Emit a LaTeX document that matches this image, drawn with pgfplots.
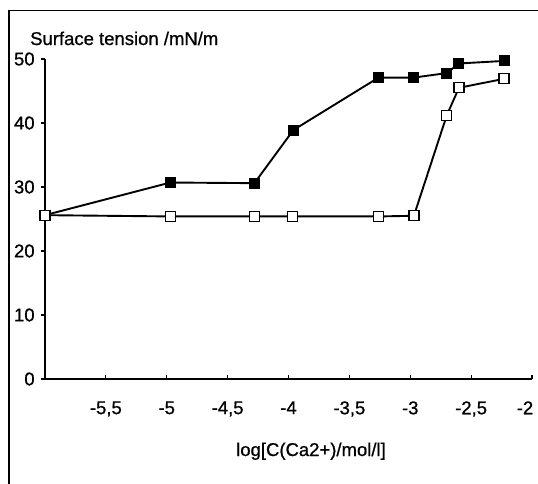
\documentclass[border=0pt]{standalone}
\usepackage{fontspec}
\setmainfont{Liberation Sans}[FakeBold=0.8]
\usepackage{pgfplots}
\pgfplotsset{compat=1.18}
\begin{document}
\fontsize{18.5}{22}\selectfont
\begin{tikzpicture}[x=1pt,y=1pt]
\begin{axis}[
  name=a,
  scale only axis, width=487pt, height=320pt,
  xmin=-6, xmax=-2, ymin=0, ymax=50,
  axis x line=bottom, axis y line=left,
  axis line style={-, line width=1.4pt},
  clip=false,
  xtick={-5.5,-5,-4.5,-4,-3.5,-3,-2.5,-2},
  xticklabels={{-5,5},{-5},{-4,5},{-4},{-3,5},{-3},{-2,5},{\hspace*{-14pt}-2}},
  ytick={0,10,20,30,40,50},
  yticklabels={0,10,20,30,40,50},
  xtick align=inside, ytick align=outside,
  major tick length=4pt,
  tick style={black, line width=1.2pt},
  x tick label style={yshift=-16pt},
  every tick label/.append style={font=\fontsize{18.5}{22}\selectfont},
]
\addplot[black, line width=1.9pt, mark=square*, mark size=5pt, mark options={solid, fill=black, line width=1pt}]
coordinates {(-6,25.6) (-4.97,30.7) (-4.28,30.6) (-3.96,38.9) (-3.26,47.1) (-2.97,47.1) (-2.70,47.8) (-2.60,49.3) (-2.23,49.7)};
\addplot[black, line width=1.9pt, mark=square*, mark size=5pt, mark options={solid, fill=white, line width=1.3pt}]
coordinates {(-6,25.6) (-4.97,25.4) (-4.28,25.4) (-3.97,25.4) (-3.26,25.4) (-2.97,25.5) (-2.70,41.2) (-2.60,45.5) (-2.23,46.9)};
\end{axis}
\draw[line width=1.5pt] (-36,-130) -- (-36,368.5) -- (520,368.5);
\node[anchor=base west, inner sep=0pt] at (-15,334) {Surface tension /mN/m};
\node[anchor=base, inner sep=0pt] at (266,-77) {log[C(Ca2+)/mol/l]};
\pgfresetboundingbox
\path[use as bounding box] (-45,-104) rectangle (493,379);
\end{tikzpicture}
\end{document}
